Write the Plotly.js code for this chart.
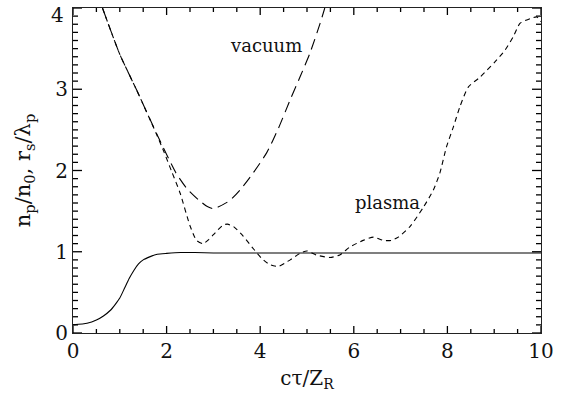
<!DOCTYPE html>
<html>
<head>
<meta charset="utf-8">
<script src="https://cdn.plot.ly/plotly-3.0.1.min.js"></script>
<style>html,body{margin:0;padding:0;background:#fff;}</style>
</head>
<body>
<div id="chart" style="width:567px;height:400px;"></div>
<script>
// Solid curve (n_p/n_0)
const solidX = [0, 0.3, 0.5, 0.65, 0.8, 0.9, 1.0, 1.1, 1.2, 1.3, 1.4, 1.5, 1.65, 1.8, 2.0, 2.3, 2.6, 3.0, 4.0, 5.0, 6.0, 7.0, 8.0, 9.0, 10.0];
const solidY = [0.1, 0.12, 0.16, 0.21, 0.28, 0.35, 0.43, 0.55, 0.67, 0.77, 0.85, 0.9, 0.94, 0.97, 0.98, 0.99, 0.99, 0.985, 0.985, 0.985, 0.985, 0.985, 0.985, 0.985, 0.985];

// Vacuum spot size (long dashes)
const vacX = [0.63, 1.0, 1.36, 1.79, 2.2, 2.43, 2.68, 2.86, 3.0, 3.1, 3.35, 3.57, 3.85, 4.14, 4.39, 4.64, 4.85, 5.06, 5.28, 5.38];
const vacY = [4.0, 3.43, 2.99, 2.45, 1.97, 1.78, 1.64, 1.56, 1.53, 1.55, 1.63, 1.76, 1.97, 2.22, 2.52, 2.87, 3.15, 3.44, 3.81, 4.0];

// Plasma spot size (short dashes)
const plsX = [0.63, 1.0, 1.36, 1.79, 1.95, 2.1, 2.29, 2.5, 2.64, 2.78, 2.9, 3.0, 3.21, 3.3, 3.43, 3.64, 3.85, 4.03, 4.21, 4.39, 4.64, 4.85, 5.0, 5.2, 5.49, 5.7, 5.92, 6.2, 6.42, 6.63, 6.8, 6.95, 7.2, 7.49, 7.7, 7.84, 7.98, 8.13, 8.27, 8.45, 8.7, 9.02, 9.23, 9.41, 9.55, 9.77, 9.91, 10.0];
const plsY = [4.0, 3.43, 2.99, 2.44, 2.22, 2.0, 1.72, 1.32, 1.14, 1.1, 1.15, 1.21, 1.33, 1.34, 1.31, 1.19, 1.04, 0.92, 0.84, 0.82, 0.9, 0.98, 1.01, 0.96, 0.93, 0.96, 1.06, 1.14, 1.18, 1.14, 1.14, 1.18, 1.31, 1.55, 1.76, 1.97, 2.29, 2.54, 2.79, 3.03, 3.15, 3.34, 3.48, 3.65, 3.81, 3.87, 3.89, 3.83];

// Axis ticks
const xTickVals = [0, 2, 4, 6, 8, 10];
const yTickVals = [0, 1, 2, 3];
const xMinorStep = 0.5;
const yMinorStep = 0.1;
const xRange = [0, 10];
const yRange = [0, 4];
const FONT = 'DejaVu Serif, Liberation Serif, serif';

const traces = [
  {x: solidX, y: solidY, mode: 'lines', line: {color: '#000', width: 1.1, shape: 'spline', smoothing: 0.5}, hoverinfo: 'skip'},
  {x: vacX, y: vacY, mode: 'lines', line: {color: '#000', width: 1.1, dash: '11px,6px', shape: 'spline', smoothing: 0.6}, hoverinfo: 'skip'},
  {x: plsX, y: plsY, mode: 'lines', line: {color: '#000', width: 1.1, dash: '5px,4px', shape: 'spline', smoothing: 0.6}, hoverinfo: 'skip'}
];

// Inward-pointing tick marks on all four sides (axis decoration), lengths in axis units
const plotW = 567 - 73 - 26, plotH = 400 - 8 - 67;
const xPerPx = (xRange[1] - xRange[0]) / plotW;
const yPerPx = (yRange[1] - yRange[0]) / plotH;
const shapes = [];
const tickLine = {color: '#000', width: 1.3};
const nx = Math.round((xRange[1] - xRange[0]) / xMinorStep);
for (let i = 0; i <= nx; i++) {
  const v = xRange[0] + i * xMinorStep;
  const len = ((i % 4 === 0) ? 7 : 4) * yPerPx;
  shapes.push({type: 'line', xref: 'x', yref: 'y', x0: v, x1: v, y0: yRange[0], y1: yRange[0] + len, line: tickLine, layer: 'above'});
  shapes.push({type: 'line', xref: 'x', yref: 'y', x0: v, x1: v, y0: yRange[1], y1: yRange[1] - len, line: tickLine, layer: 'above'});
}
const ny = Math.round((yRange[1] - yRange[0]) / yMinorStep);
for (let i = 0; i <= ny; i++) {
  const v = yRange[0] + i * yMinorStep;
  const len = ((i % 10 === 0) ? 9 : 5) * xPerPx;
  shapes.push({type: 'line', xref: 'x', yref: 'y', y0: v, y1: v, x0: xRange[0], x1: xRange[0] + len, line: tickLine, layer: 'above'});
  shapes.push({type: 'line', xref: 'x', yref: 'y', y0: v, y1: v, x0: xRange[1], x1: xRange[1] - len, line: tickLine, layer: 'above'});
}

const layout = {
  width: 567, height: 400,
  margin: {l: 73, r: 26, t: 8, b: 67},
  paper_bgcolor: '#fff', plot_bgcolor: '#fff',
  showlegend: false,
  xaxis: {
    range: xRange, tickmode: 'array', tickvals: xTickVals,
    showgrid: false, zeroline: false, showline: true, linecolor: '#222', linewidth: 1,
    mirror: true, ticks: '',
    tickfont: {family: FONT, size: 20, color: '#111'},
    title: {text: 'cτ/Z<sub>R</sub>', font: {family: FONT, size: 20, color: '#111'}, standoff: 8}
  },
  yaxis: {
    range: yRange, tickmode: 'array', tickvals: yTickVals,
    showgrid: false, zeroline: false, showline: true, linecolor: '#222', linewidth: 1,
    mirror: true, ticks: '',
    tickfont: {family: FONT, size: 20, color: '#111'},
    title: {text: 'n<sub>p</sub>/n<sub>0</sub>, r<sub>s</sub>/λ<sub>p</sub>', font: {family: FONT, size: 21, color: '#111'}, standoff: 18}
  },
  shapes: shapes,
  annotations: [
    {xref: 'paper', yref: 'y', x: 0, y: 4, xanchor: 'right', yanchor: 'middle', xshift: -7, yshift: -7, text: '4', showarrow: false, font: {family: FONT, size: 20, color: '#111'}},
    {x: 4.12, y: 3.54, text: 'vacuum', showarrow: false, font: {family: FONT, size: 18, color: '#111'}},
    {x: 6.71, y: 1.61, text: 'plasma', showarrow: false, font: {family: FONT, size: 18, color: '#111'}}
  ]
};

Plotly.newPlot('chart', traces, layout, {staticPlot: true, displayModeBar: false});
</script>
</body>
</html>
